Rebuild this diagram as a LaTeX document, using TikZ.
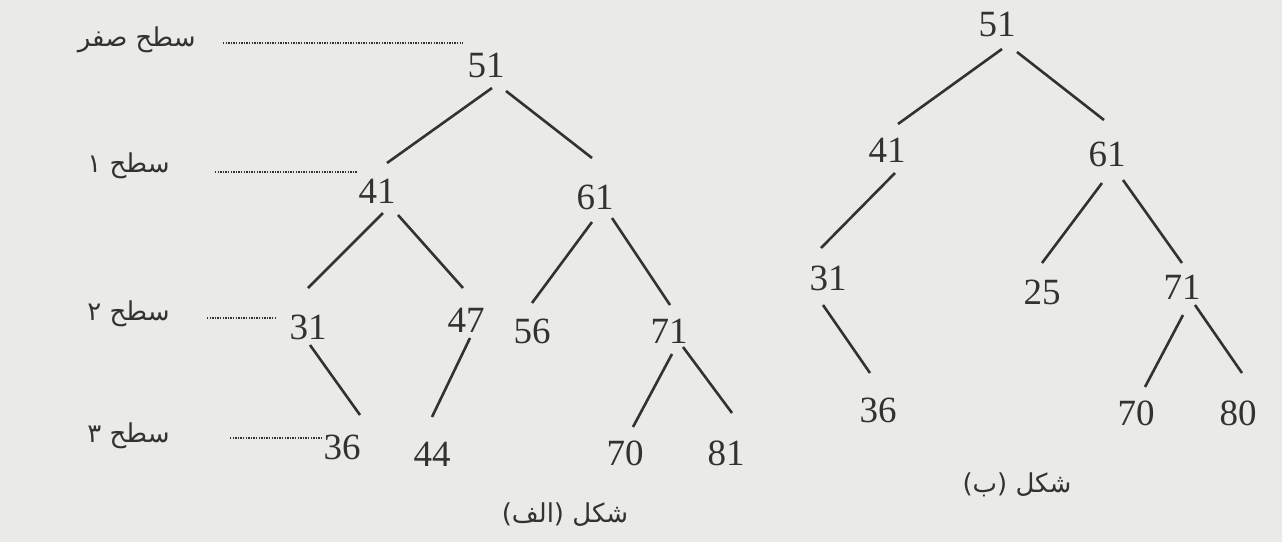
\documentclass[tikz,border=0pt]{standalone}
\usepackage{fontspec}
\setmainfont{Liberation Serif}
\newfontfamily\arabicfont[Script=Arabic]{DejaVu Sans}
\TeXXeTstate=1
\definecolor{ScanGray}{RGB}{234,234,231}
\definecolor{InkGray}{RGB}{50,50,50}
\tikzset{
  key/.style={inner sep=0pt,text=InkGray,font=\fontsize{18.5}{22}\selectfont},
  edge/.style={draw=InkGray,line width=1.3pt},
  lvl/.style={draw=InkGray,line width=1.4pt,dash pattern=on 0.7pt off 0.6pt},
  fa/.style={inner sep=0pt,text=InkGray,font=\arabicfont\fontsize{13}{15}\selectfont},
}

\begin{document}
\begin{tikzpicture}[x=0.5pt,y=-0.5pt]
\fill[ScanGray] (0,0) rectangle (1282,542);
\useasboundingbox (0,0) rectangle (1282,542);
% tree (alef)
\node[key] (a51) at (486,65) {51};
\node[key] (a41) at (377,191) {41};
\node[key] (a61) at (595,197) {61};
\node[key] (a31) at (308,327) {31};
\node[key] (a47) at (466,320) {47};
\node[key] (a56) at (532,331) {56};
\node[key] (a71) at (669,331) {71};
\node[key] (a36) at (342,447) {36};
\node[key] (a44) at (432,454) {44};
\node[key] (a70) at (625,453) {70};
\node[key] (a81) at (726,453) {81};
\draw[edge] ([shift={(6,23)}]a51.center)--([shift={(10,-28)}]a41.center);
\draw[edge] ([shift={(20,26)}]a51.center)--([shift={(-3,-39)}]a61.center);
\draw[edge] ([shift={(6,22)}]a41.center)--([shift={(0,-39)}]a31.center);
\draw[edge] ([shift={(21,24)}]a41.center)--([shift={(-3,-32)}]a47.center);
\draw[edge] ([shift={(-3,25)}]a61.center)--([shift={(0,-28)}]a56.center);
\draw[edge] ([shift={(17,21)}]a61.center)--([shift={(1,-26)}]a71.center);
\draw[edge] ([shift={(2,18)}]a31.center)--([shift={(18,-32)}]a36.center);
\draw[edge] ([shift={(4,18)}]a47.center)--([shift={(0,-37)}]a44.center);
\draw[edge] ([shift={(3,23)}]a71.center)--([shift={(8,-26)}]a70.center);
\draw[edge] ([shift={(14,16)}]a71.center)--([shift={(6,-40)}]a81.center);
% levels
\node[fa,anchor=east] (s0) at (196,40) {\beginR سطح صفر\endR};
\node[fa,anchor=east] (s1) at (170,166) {\beginR سطح ۱\endR};
\node[fa,anchor=east] (s2) at (170,314) {\beginR سطح ۲\endR};
\node[fa,anchor=east] (s3) at (170,436) {\beginR سطح ۳\endR};
\coordinate (d0a) at (223,43); \coordinate (d0b) at (463,43);
\coordinate (d1a) at (215,172); \coordinate (d1b) at (357,172);
\coordinate (d2a) at (207,318); \coordinate (d2b) at (277,318);
\coordinate (d3a) at (230,438); \coordinate (d3b) at (323,438);
\draw[lvl] (d0a)--(d0b);
\draw[lvl] (d1a)--(d1b);
\draw[lvl] (d2a)--(d2b);
\draw[lvl] (d3a)--(d3b);
\node[fa] (capA) at (565,515) {\beginR شکل (الف)\endR};
% tree (be)
\node[key] (b51) at (997,24) {51};
\node[key] (b41) at (887,150) {41};
\node[key] (b61) at (1107,154) {61};
\node[key] (b31) at (828,278) {31};
\node[key] (b25) at (1042,292) {25};
\node[key] (b71) at (1182,287) {71};
\node[key] (b36) at (878,410) {36};
\node[key] (b70) at (1136,413) {70};
\node[key] (b80) at (1238,413) {80};
\draw[edge] ([shift={(5,25)}]b51.center)--([shift={(11,-26)}]b41.center);
\draw[edge] ([shift={(20,28)}]b51.center)--([shift={(-3,-34)}]b61.center);
\draw[edge] ([shift={(8,23)}]b41.center)--([shift={(-7,-30)}]b31.center);
\draw[edge] ([shift={(-5,29)}]b61.center)--([shift={(0,-29)}]b25.center);
\draw[edge] ([shift={(16,26)}]b61.center)--([shift={(0,-24)}]b71.center);
\draw[edge] ([shift={(-5,27)}]b31.center)--([shift={(-8,-37)}]b36.center);
\draw[edge] ([shift={(1,28)}]b71.center)--([shift={(9,-26)}]b70.center);
\draw[edge] ([shift={(13,18)}]b71.center)--([shift={(4,-40)}]b80.center);
\node[fa] (capB) at (1017,485) {\beginR شکل (ب)\endR};
\end{tikzpicture}
\end{document}
